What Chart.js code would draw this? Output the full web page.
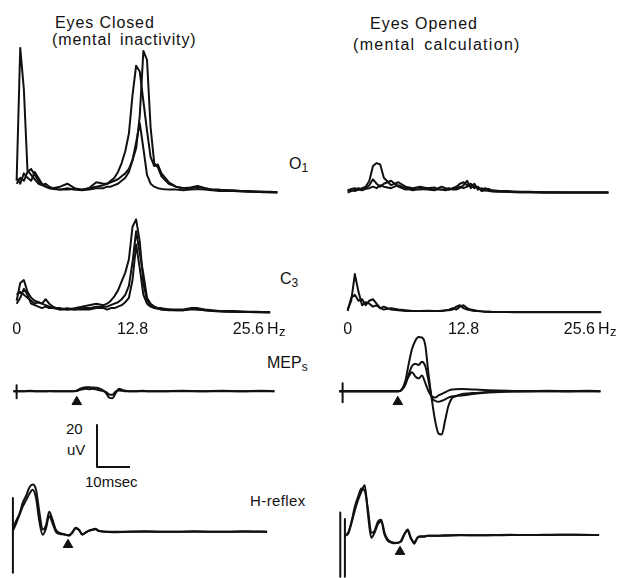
<!DOCTYPE html>
<html>
<head>
<meta charset="utf-8">
<script src="https://cdn.jsdelivr.net/npm/chart.js@4.4.0/dist/chart.umd.min.js"></script>
<style>
  html, body { margin: 0; padding: 0; background: #fff; }
  #fig { position: relative; width: 623px; height: 578px; overflow: hidden; background: #fff;
         font-family: "Liberation Sans", Arial, sans-serif; color: #111; }
  .panel { position: absolute; }
  .lbl { position: absolute; white-space: pre; line-height: 1; }
  .lbl sub { font-size: 0.75em; vertical-align: -0.25em; }
</style>
</head>
<body>
<div id="fig">
  <div class="lbl" style="left:55px;top:15px;font-size:16px;letter-spacing:0.9px">Eyes Closed</div>
  <div class="lbl" style="left:52px;top:32px;font-size:16px;letter-spacing:0.9px;word-spacing:3px">(mental inactivity)</div>
  <div class="lbl" style="left:370px;top:16px;font-size:16px;letter-spacing:1px">Eyes Opened</div>
  <div class="lbl" style="left:353px;top:37px;font-size:16px;letter-spacing:1.3px;word-spacing:3px">(mental calculation)</div>
  <div class="lbl" style="left:289px;top:156px;font-size:16px">O<sub>1</sub></div>
  <div class="lbl" style="left:280px;top:271px;font-size:16px">C<sub>3</sub></div>
  <div class="lbl" style="left:267px;top:355px;font-size:16px">MEP<sub>s</sub></div>
  <div class="lbl" style="left:250px;top:493px;font-size:15px;letter-spacing:0.4px">H-reflex</div>
  <div class="lbl" style="left:66px;top:421px;font-size:15px">20</div>
  <div class="lbl" style="left:67px;top:442px;font-size:15px">uV</div>
  <div class="lbl" style="left:85px;top:474px;font-size:15px">10msec</div>
</div>
<script>
// ---- spectra (relative power), eyes closed / eyes opened ----
const freqHz = [0, 0.4, 0.8, 1.2, 1.6, 2.0, 2.4, 2.8, 3.2, 3.6,
  4.0, 4.8, 5.6, 6.4, 7.2, 8.0, 8.8, 9.6, 10.0, 10.4,
  10.8, 11.2, 11.6, 12.0, 12.4, 12.8, 13.2, 13.6, 14.0, 14.4,
  14.8, 15.2, 15.6, 16.0, 16.8, 17.6, 18.4, 19.2, 20.0, 20.8,
  21.6, 22.4, 23.2, 24.0, 24.8, 25.6, 26.4, 27.2, 28.0, 28.8];
const freqTicks = [0, 12.8, 25.6];
const freqTickLabels = ['0', '12.8', '25.6'];

const o1ClosedA = [8, 98, 70, 15, 12, 9, 6, 5, 4, 3,
  3, 2, 2, 2.5, 2, 3, 4, 5, 6, 7,
  8, 9, 11, 13, 16, 22, 30, 52, 96, 90,
  44, 20, 17, 11, 6, 4, 3, 3, 4, 3,
  2, 2, 1.5, 1.5, 1, 1, 0.8, 0.5, 0.5, 0.3];
const o1ClosedB = [6, 10, 8, 14, 16, 12, 8, 5, 6, 4,
  3, 4, 6, 3, 2, 3, 7, 6, 6, 8,
  10, 14, 20, 28, 40, 66, 86, 82, 62, 42,
  24, 18, 19, 13, 7, 4, 3, 3.5, 4.5, 3,
  2, 1.5, 1.5, 1, 1, 0.8, 0.6, 0.5, 0.3, 0.2];
const o1ClosedC = [10, 6, 13, 10, 8, 14, 10, 6, 4, 3,
  2.5, 2, 3, 2, 1.5, 2, 3, 3, 4, 4,
  5, 6, 8, 10, 14, 22, 34, 47, 30, 12,
  6, 4, 3, 2.5, 2, 2, 1.5, 2, 2.5, 2,
  1.5, 1, 1, 1, 0.8, 0.5, 0.5, 0.3, 0.2, 0];

const o1OpenA = [1, 2.5, 3, 2, 3, 4, 8, 18, 20, 19,
  10, 5, 7, 4, 3, 4, 3, 2, 3, 4,
  3, 2, 3, 4, 6, 7, 5, 6, 4, 3,
  2, 3, 2, 1.5, 1, 1, 0.8, 0.6, 0.5, 0.4,
  0.3, 0.2, 0.2, 0, 0, 0, 0, 0, 0, 0];
const o1OpenB = [0, 1, 2, 3, 2, 3, 5, 9, 6, 4,
  6, 8, 4, 2, 2.5, 2, 3, 3.5, 2, 2,
  2.5, 3, 2, 2, 3, 5, 8, 3, 6, 2,
  3, 1.5, 2.5, 1, 0.8, 0.6, 0.4, 0.3, 0.2, 0.2,
  0.1, 0, 0, 0, 0, 0, 0, 0, 0, 0];
const o1OpenC = [2, 1.5, 1, 2, 1.5, 2.5, 3, 4, 3, 5,
  4, 3, 5, 3, 1.5, 2.5, 2, 1.5, 2.5, 2,
  1.5, 2, 2.5, 3, 4, 3, 4, 5, 3, 4,
  1, 1.5, 1, 0.8, 0.5, 0.5, 0.3, 0.2, 0.2, 0.1,
  0, 0, 0, 0, 0, 0, 0, 0, 0, 0];

const c3ClosedA = [8, 20, 22, 14, 10, 8, 7, 6, 5, 4,
  3, 3, 2, 3, 4, 5, 6, 5, 6, 8,
  11, 15, 21, 27, 36, 58, 63, 48, 20, 8,
  5, 4, 3, 3, 2, 2, 2, 3, 3, 2,
  1.5, 1, 1, 1, 0.8, 0.6, 0.5, 0.4, 0.3, null];
const c3ClosedB = [12, 14, 12, 10, 8, 6, 7, 6, 9, 6,
  4, 2, 3, 2, 2, 2, 3, 3, 2, 3,
  3, 4, 5, 7, 10, 22, 46, 30, 12, 6,
  4, 3, 2.5, 2, 1.5, 1.5, 1.5, 2, 2, 1.5,
  1, 1, 0.8, 0.6, 0.5, 0.4, 0.3, 0.2, 0.2, null];
const c3ClosedC = [6, 10, 16, 12, 6, 5, 4, 3, 4, 3,
  3, 2, 2, 2, 3, 3, 4, 4, 4, 5,
  6, 7, 9, 12, 18, 34, 55, 40, 26, 10,
  6, 4, 3, 2, 2, 1.5, 1.5, 2.5, 2, 1.5,
  1, 0.8, 0.6, 0.5, 0.4, 0.3, 0.2, 0.2, 0.1, null];

const c3OpenA = [2, 8, 26, 14, 5, 7, 6, 4, 5, 3,
  4, 2, 1.5, 1, 1, 1, 1, 1, 1, 1,
  1.5, 1.5, 2, 4, 5, 3, 2, 1.5, 1, 1,
  0.8, 0.6, 0.5, 0.4, 0.3, 0.3, 0.3, 0.3, 0.3, 0.3,
  0.3, 0.3, 0.3, 0.3, 0.3, 0.3, 0.3, 0.3, 0.3, null];
const c3OpenB = [1, 10, 12, 8, 9, 5, 8, 9, 6, 3,
  2, 3, 2, 1.5, 1, 1, 1.2, 1, 1, 1.2,
  1.4, 2, 3, 2, 4, 5, 3, 2, 1.5, 1,
  0.8, 0.6, 0.5, 0.4, 0.3, 0.3, 0.2, 0.2, 0.2, 0.2,
  0.2, 0.2, 0.2, 0.2, 0.2, 0.2, 0.2, 0.2, 0.2, null];

// ---- MEPs (uV against ms after stimulus) ----
const mepMs = [-1, 0, 2, 4, 6, 8, 10, 12, 14, 16,
  17, 18, 19, 20, 21, 22, 23, 24, 25, 26,
  27, 28, 29, 30, 31, 32, 33, 34,
  36, 38, 40, 44, 50, 56, 62, 68, 74, 78];
const mepClosedA = [0, 0, 0, 0.2, 0, 0, 0.1, 0, 0, 0,
  0, 0.2, 1, 1.7, 1.9, 1.9, 1.8, 1.7, 1.4, 0.6,
  -0.8, -3, -3.3, -0.8, 1.2, 0.6, 0.2, 0,
  0, 0.2, 0, 0, 0.3, 0, 0.2, 0, 0.2, 0];
const mepClosedB = [0, 0, 0, 0, 0, 0, 0, 0, 0, 0,
  0, 0.1, 0.6, 1, 1.2, 1, 1.2, 0.9, 0.5, 0.2,
  -0.3, -1.5, -1.6, 0, 0.4, 0.2, 0, 0,
  0, 0, 0, 0, 0, 0, 0, 0, 0, 0];
const mepOpenA = [0, 0, 0, 0, 0, 0, 0, 0, 0, 0,
  0, 1, 5, 13, 20, 24, 25.7, 25.5, 22, 8,
  -4, -14, -20, -20.5, -14, -7, -3.5, -2.5,
  -1.4, -1, -0.8, -0.4, 0, 0, 0.2, 0, 0.2, 0];
const mepOpenB = [0, 0, 0, 0, 0, 0, 0, 0, 0, 0,
  0, 0.8, 3, 8, 12, 13, 12.5, 14, 12, 5,
  -3, -4.5, -5, -4.5, -3.8, -3, -2.5, -2.2,
  -2, -1.6, -1.2, -0.6, -0.2, 0, 0, 0, 0, 0];
const mepOpenC = [0, 0, 0, 0, 0, 0, 0, 0, 0, 0,
  0, 1, 4, 7, 9, 7, 6, 7.5, 4, 0,
  -2.5, -3, -2, -1.2, -0.5, 0.3, 0.8, 1,
  1.1, 1, 0.8, 0.5, 0.2, 0, 0, 0, 0, 0];

// ---- H-reflex ----
const hMs = [0, 1, 2, 3, 4, 5, 6, 7, 8, 9,
  10, 11, 12, 13, 14, 15, 16, 17, 18, 19,
  20, 21, 22, 23, 24, 25, 26,
  28, 30, 35, 40, 45, 50, 55, 60, 65, 70, 77];
const hClosedA = [2, 5.2, 8.6, 13.8, 17.1, 21, 22.4, 20, 9.5, 1,
  2.9, 9.5, 5.7, 1, -0.5, -1, -1.4, -1.9, -0.5, 1.9,
  1, -1.4, -0.5, 0.5, 1, 1.4, 0.5,
  0, -0.3, 0, 0.2, 0, 0, 0.2, 0, 0, 0.2, 0];
const hClosedB = [0.5, 4, 8, 12, 15, 18, 20, 16, 5, -1.5,
  1.5, 7.5, 4, 0, -1, -1.2, -1.5, -1.6, -0.2, 1.5,
  0.8, -1.2, -0.4, 0.4, 0.8, 1.2, 0.3,
  0, 0, 0, 0, 0, 0, 0, 0, 0, 0, 0];
const hOpenA = [0, 1.4, 6.7, 13.8, 18.6, 22.4, 21.4, 12.4, 1.4, 2.4,
  6.7, 7.6, 1.4, -1.9, -2.9, -3.3, -3.3, -2.9, 0.5, 2.9,
  -1, -3.8, -1, -0.5, -0.5, 0, 0,
  0, 0.2, 0.3, 0.2, 0.3, 0.4, 0.3, 0.4, 0.5, 0.4, 0.3];
const hOpenB = [0, 1, 6, 12, 17, 21, 24, 10, -1, 1.5,
  5.5, 6.8, 0.5, -2.4, -3.2, -3.6, -3.4, -2.4, 0.8, 2.4,
  -1.5, -3, -0.8, -0.3, -0.3, 0, 0,
  0, 0, 0.2, 0.2, 0.2, 0.3, 0.3, 0.3, 0.4, 0.4, 0.3];

// stimulus artefacts and onset markers
const stimMs = [0, 0];
const stimPreMs = [-1.4, -1.4];
const mepStimClosedUv = [2.9, -3.3];
const mepStimOpenUv = [3.8, -5.2];
const hStimClosedUv = [16, -19.5];
const hStimOpenUv = [8, -19.5];
const hStimOpenPreUv = [11, -19.5];
const mepOnsetMs = [18.2, 16.7];
const mepOnsetUv = [-5, -5];
const hOnsetMs = [16.7, 16.7];
const hOnsetUv = [-6.2, -7.6];

// calibration bar: 20 uV, 10 msec
const scaleBarMs = [0, 0, 10];
const scaleBarUv = [20, 0, 0];

const INK = '#111';
const FONT = '"Liberation Sans", Arial, sans-serif';
const fig = document.getElementById('fig');

function trace(xs, ys) {
  return xs.map((x, i) => ({ x: x, y: ys[i] }));
}

// smooth = monotone curve (evoked potentials); otherwise straight segments
function lineSet(xs, ys, smooth) {
  return {
    data: trace(xs, ys),
    borderColor: INK,
    borderWidth: 2,
    pointRadius: 0,
    cubicInterpolationMode: smooth ? 'monotone' : 'default',
    tension: 0,
    borderJoinStyle: 'round',
    fill: false,
    clip: false
  };
}

function markerSet(xs, ys) {
  return {
    data: trace(xs, ys),
    showLine: false,
    pointStyle: 'triangle',
    pointRadius: 5.5,
    backgroundColor: INK,
    borderColor: INK,
    borderWidth: 1,
    clip: false
  };
}

// draws the "Hz" unit right after the last frequency tick
const unitLabel = {
  id: 'unitLabel',
  afterDraw(chart) {
    const s = chart.scales.x;
    const ctx = chart.ctx;
    ctx.save();
    ctx.font = '16px ' + FONT;
    const w = ctx.measureText(freqTickLabels[freqTickLabels.length - 1]).width;
    const x = s.getPixelForValue(freqTicks[freqTicks.length - 1]) + w / 2 + 3;
    const y = s.top + 3 + 9.6;
    ctx.fillStyle = INK;
    ctx.textBaseline = 'middle';
    ctx.textAlign = 'left';
    ctx.fillText('H', x, y);
    const hw = ctx.measureText('H').width;
    ctx.font = '13px ' + FONT;
    ctx.fillText('z', x + hw + 0.5, y + 3);
    ctx.restore();
  }
};

function panel(box, xr, yr, datasets, withTicks) {
  const P = 12, AX = withTicks ? 24 : 0;
  const div = document.createElement('div');
  div.className = 'panel';
  div.style.left = (box.left - P) + 'px';
  div.style.top = (box.top - P) + 'px';
  div.style.width = (box.w + 2 * P) + 'px';
  div.style.height = (box.h + 2 * P + AX) + 'px';
  const cv = document.createElement('canvas');
  div.appendChild(cv);
  fig.appendChild(div);

  new Chart(cv, {
    type: 'line',
    data: { datasets: datasets },
    plugins: withTicks ? [unitLabel] : [],
    options: {
      responsive: true,
      maintainAspectRatio: false,
      animation: false,
      events: [],
      layout: { padding: P },
      plugins: { legend: { display: false }, tooltip: { enabled: false } },
      scales: {
        x: {
          type: 'linear', min: xr[0], max: xr[1],
          display: !!withTicks,
          grid: { display: false, drawTicks: false },
          border: { display: false },
          afterBuildTicks: s => { s.ticks = freqTicks.map(v => ({ value: v })); },
          afterFit: s => { s.height = AX; },
          ticks: {
            padding: 3, color: INK, maxRotation: 0, autoSkip: false,
            font: { family: FONT, size: 16 },
            callback: v => freqTickLabels[freqTicks.indexOf(v)]
          }
        },
        y: { type: 'linear', min: yr[0], max: yr[1], display: false }
      }
    }
  });
}

const FREQ = [-0.4, 29.2];

// O1
panel({ left: 13, top: 45, w: 268, h: 152 }, FREQ, [-3, 100], [
  lineSet(freqHz, o1ClosedA), lineSet(freqHz, o1ClosedB), lineSet(freqHz, o1ClosedC)]);
panel({ left: 344, top: 45, w: 268, h: 152 }, FREQ, [-3, 100], [
  lineSet(freqHz, o1OpenA), lineSet(freqHz, o1OpenB), lineSet(freqHz, o1OpenC)]);

// C3 (with frequency axis)
panel({ left: 13, top: 209, w: 268, h: 108 }, FREQ, [-3, 70], [
  lineSet(freqHz, c3ClosedA), lineSet(freqHz, c3ClosedB), lineSet(freqHz, c3ClosedC)], true);
panel({ left: 344, top: 209, w: 268, h: 108 }, FREQ, [-3, 70], [
  lineSet(freqHz, c3OpenA), lineSet(freqHz, c3OpenB)], true);

// MEPs
panel({ left: 10, top: 328, w: 271, h: 116 }, [-2, 80], [-25, 30], [
  lineSet(mepMs, mepClosedA, true), lineSet(mepMs, mepClosedB, true),
  lineSet(stimMs, mepStimClosedUv),
  markerSet([mepOnsetMs[0]], [mepOnsetUv[0]])]);
panel({ left: 336, top: 328, w: 271, h: 116 }, [-2, 80], [-25, 30], [
  lineSet(mepMs, mepOpenA, true), lineSet(mepMs, mepOpenB, true), lineSet(mepMs, mepOpenC, true),
  lineSet(stimMs, mepStimOpenUv),
  markerSet([mepOnsetMs[1]], [mepOnsetUv[1]])]);

// calibration bar
panel({ left: 97, top: 425, w: 33, h: 42 }, [0, 10], [0, 20], [lineSet(scaleBarMs, scaleBarUv)]);

// H-reflex
panel({ left: 3, top: 477, w: 274, h: 101 }, [-3, 80], [-22, 26], [
  lineSet(hMs, hClosedA, true), lineSet(hMs, hClosedB, true),
  lineSet(stimMs, hStimClosedUv),
  markerSet([hOnsetMs[0]], [hOnsetUv[0]])]);
panel({ left: 335, top: 481, w: 274, h: 101 }, [-3, 80], [-22, 26], [
  lineSet(hMs, hOpenA, true), lineSet(hMs, hOpenB, true),
  lineSet(stimMs, hStimOpenUv), lineSet(stimPreMs, hStimOpenPreUv),
  markerSet([hOnsetMs[1]], [hOnsetUv[1]])]);
</script>
</body>
</html>
